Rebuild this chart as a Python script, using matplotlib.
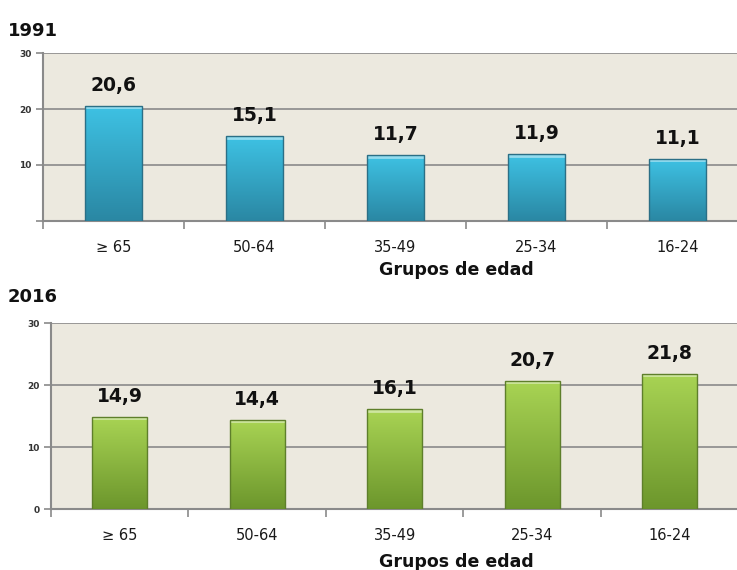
import numpy as np
import matplotlib
matplotlib.use("Agg")
import matplotlib.pyplot as plt
from matplotlib.colors import LinearSegmentedColormap

groups = ["\u2265 65", "50-64", "35-49", "25-34", "16-24"]
vals_1991 = [20.6, 15.1, 11.7, 11.9, 11.1]
vals_2016 = [14.9, 14.4, 16.1, 20.7, 21.8]
years = ["1991", "2016"]

plt.rcParams['font.family'] = ['DejaVu Sans']

fig = plt.figure(figsize=(7.37, 5.70), dpi=100)

bg = "#ecE9df"
gridc = "#8a8a8a"


def gradient_bars(ax, bars, top_col, bot_col):
    cmap = LinearSegmentedColormap.from_list("g", [bot_col, top_col])
    grad = np.linspace(0, 1, 256).reshape(-1, 1)
    for b in bars:
        x0, y0 = b.get_x(), b.get_y()
        w, h = b.get_width(), b.get_height()
        im = ax.imshow(grad, cmap=cmap, aspect="auto", origin="lower",
                       extent=[x0, x0 + w, y0, y0 + h], zorder=3)
        im.set_clip_path(b)
        # light top edge
        ax.plot([x0, x0 + w], [h - 0.25, h - 0.25], color="white", alpha=0.45,
                lw=2, zorder=4, solid_capstyle="butt")


def draw_panel(rect, vals, top_col, bot_col, edge_col, show_zero):
    ax = fig.add_axes(rect)
    ax.set_facecolor(bg)
    x = np.arange(len(vals))
    bars = ax.bar(x, vals, width=0.4, color=bot_col, edgecolor=edge_col,
                  linewidth=1.0, zorder=3)
    gradient_bars(ax, bars, top_col, bot_col)
    for b in bars:
        b.set_facecolor("none")
        b.set_zorder(5)
    ax.set_xlim(-0.5, len(vals) - 0.5)
    ax.set_ylim(0, 30)
    for xi, v in zip(x, vals):
        ax.annotate(("%.1f" % v).replace(".", ","), (xi, v),
                    xytext=(0, 8), textcoords="offset points",
                    ha="center", va="bottom", fontsize=13.5,
                    fontweight="bold", color="#111111", zorder=6)
    # y axis
    ax.set_yticks([0, 10, 20, 30])
    ax.set_yticklabels(["0" if show_zero else "", "10", "20", "30"],
                       fontsize=6.5, fontweight="bold", color="#333333")
    ax.yaxis.grid(True, color=gridc, lw=1.2, zorder=1)
    ax.tick_params(axis="y", length=5, width=1.2, color=gridc, pad=3)
    # x axis: ticks at boundaries, labels at centers
    ax.set_xticks(np.arange(len(vals) + 1) - 0.5)
    ax.set_xticklabels([])
    ax.set_xticks(x, minor=True)
    ax.set_xticklabels(groups, minor=True, fontsize=10.5, color="#1a1a1a")
    ax.tick_params(axis="x", which="major", length=6, width=1.2, color=gridc,
                   direction="out")
    ax.tick_params(axis="x", which="minor", length=0, pad=14)
    for s in ["top", "right"]:
        ax.spines[s].set_visible(False)
    for s in ["left", "bottom"]:
        ax.spines[s].set_color(gridc)
        ax.spines[s].set_linewidth(1.5)
    return ax


ax1 = draw_panel([0.0583, 0.6123, 0.9566, 0.2947], vals_1991,
                 "#3ec2e4", "#2a87a3", "#2b6f86", False)
ax2 = draw_panel([0.0692, 0.1070, 0.9328, 0.3263], vals_2016,
                 "#a9d454", "#6c962c", "#5e7f2b", True)

fig.text(8 / 737, 1 - 31 / 570, years[0], fontsize=13, fontweight="bold",
         va="center", ha="left", color="#111111")
fig.text(8 / 737, 1 - 297 / 570, years[1], fontsize=13, fontweight="bold",
         va="center", ha="left", color="#111111")
fig.text(456 / 737, 1 - 270 / 570, "Grupos de edad", fontsize=12.5,
         fontweight="bold", va="center", ha="center", color="#111111")
fig.text(456 / 737, 1 - 562 / 570, "Grupos de edad", fontsize=12.5,
         fontweight="bold", va="center", ha="center", color="#111111")

fig.savefig("out.png", dpi=100, facecolor="white")
